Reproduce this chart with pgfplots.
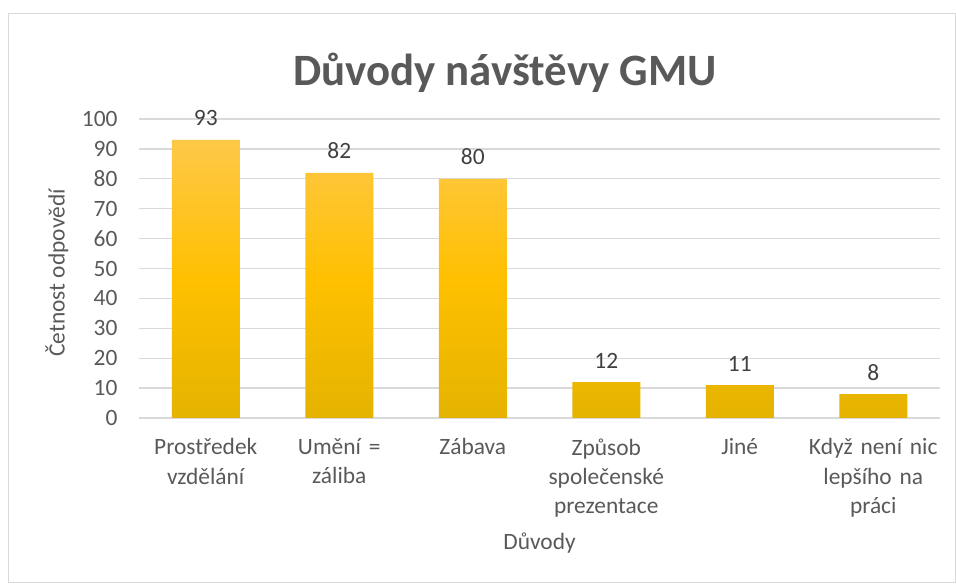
\documentclass[border=0pt]{standalone}
\usepackage{pgfplots}
\pgfplotsset{compat=1.18}
\usepackage{fontspec}
\setmainfont{Carlito}
\definecolor{txt}{HTML}{595959}
\definecolor{lbl}{HTML}{404040}
\definecolor{grd}{HTML}{D9D9D9}
\definecolor{btop}{HTML}{FEC848}
\definecolor{bmid}{HTML}{FFC000}
\definecolor{bbot}{HTML}{E4B300}
\begin{document}
\begin{tikzpicture}[x=1bp,y=1bp]
\path[use as bounding box] (0,0) rectangle (956,584);
\draw[color=grd, line width=1bp] (8,1) rectangle (955,570);
\begin{axis}[
  at={(139bp,166bp)}, anchor=south west,
  scale only axis, width=801bp, height=299bp,
  xmin=-0.5, xmax=5.5, ymin=0, ymax=100,
  ytick={0,10,...,100},
  xtick={0,1,2,3,4,5},
  xticklabels={{Prostředek\\vzdělání},{Umění =\\záliba},{Zábava},{Způsob\\společenské\\prezentace},{Jiné},{Když není nic\\lepšího na\\práci}},
  axis line style={draw=none},
  major tick length=0pt,
  ymajorgrids, grid style={color=grd, line width=1.3bp},
  tick label style={font=\fontsize{23.5}{29.5}\selectfont, text=txt},
  /pgf/number format/assume math mode=true,
  xticklabel style={align=center, text width=150bp, anchor=north, yshift=-17bp},
  yticklabel style={anchor=east, xshift=-18bp},
  xlabel={Důvody}, ylabel={Četnost odpovědí},
  label style={font=\fontsize{23.5}{29}\selectfont, text=txt},
  xlabel style={at={(axis description cs:0.5,-0.42)}, anchor=center},
  ylabel style={at={(axis description cs:-0.1024,0.485)}, anchor=center},
  nodes near coords,
  every node near coord/.append style={font=\fontsize{23.5}{29}\selectfont, text=lbl, anchor=base, yshift=14bp},
  clip=false,
]
\addplot[ybar, bar width=68bp, draw=none, shading=axis, top color=btop, bottom color=bbot, middle color=bmid]
  coordinates {(0,93) (1,82) (2,80) (3,12) (4,11) (5,8)};
\end{axis}
\node[anchor=base, font=\fontsize{45}{54}\selectfont\bfseries, text=txt] at (505,498) {Důvody návštěvy GMU};
\end{tikzpicture}
\end{document}
